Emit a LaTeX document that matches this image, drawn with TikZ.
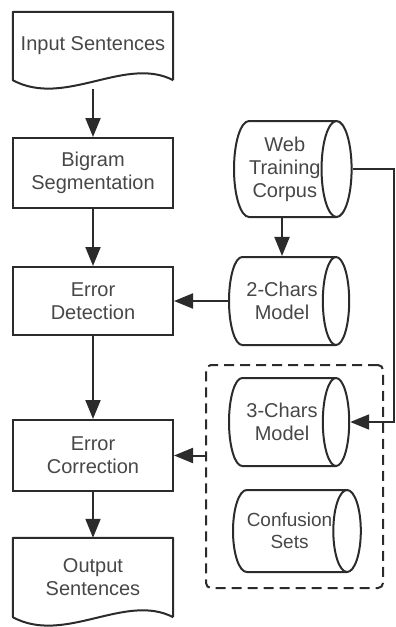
\documentclass[tikz,border=0pt]{standalone}
\usepackage{fontspec}
\setmainfont{Liberation Sans}
\usetikzlibrary{shapes.geometric,arrows.meta,calc}
\definecolor{linegray}{HTML}{2B2B2B}
\definecolor{textgray}{HTML}{474747}

\begin{document}
\begin{tikzpicture}[
		x=1pt, y=-1pt,
		every node/.style={font=\fontsize{20}{23}\selectfont, text=textgray, align=center, inner sep=0pt},
		box/.style={rectangle, draw=linegray, line width=2pt, minimum width=160pt, minimum height=70pt},
		docbox/.style={rectangle, minimum width=160pt, minimum height=68pt},
		docline/.style={draw=linegray, line width=2pt, line join=round},
		store/.style={cylinder, draw=linegray, line width=2pt, anchor=west, minimum width=88pt, inner xsep=4.25pt, shape aspect=0.7},
		flow/.style={draw=linegray, line width=2pt, -{Triangle[length=19pt, width=15pt]}}
	]
  \useasboundingbox (0, 0) rectangle (396, 627);
  % left column
  \node (in) [docbox] at (93, 46) {Input Sentences};
  \node (seg) [box] at (93, 173) {Bigram\\Segmentation};
  \node (det) [box, minimum height=68pt] at (93, 301) {Error\\Detection};
  \node (cor) [box, minimum height=71pt] at (93, 455.5) {Error\\Correction};
  \node (out) [docbox, minimum height=79pt] at (93, 577.5) {Output\\Sentences};
  \draw [docline] (in.south east) -- (in.north east) -- (in.north west) -- (in.south west)
    .. controls ($(in.south west)+(52,28)$) and ($(in.south east)+(-48,-25)$) .. (in.south east);
  \draw [docline] (out.south east) -- (out.north east) -- (out.north west) -- (out.south west)
    .. controls ($(out.south west)+(52,28)$) and ($(out.south east)+(-48,-25)$) .. (out.south east);
  % right column
  \node (web) [store, minimum width=96pt, inner xsep=0pt, shape aspect=0.465] at (233, 169) {Web\\Training\\Corpus};
  \node (two) [store] at (228, 301) {2-Chars\\Model};
  \node (three) [store] at (228, 422) {3-Chars\\Model};
  \node (conf) [store, minimum width=82pt, inner xsep=0pt, shape aspect=0.765, font=\fontsize{19}{22}\selectfont] at (232, 531) {Confusion\\Sets};
  \node (grp) [draw=linegray, line width=2pt, dash pattern=on 10pt off 6pt, rounded corners=5pt,
    minimum width=177pt, minimum height=223pt] at (294.5, 476.5) {};
  \coordinate (rail) at (394, 300);
  % connectors
  \draw [flow] (in.south) ++(0, 9) -- (seg.north);
  \draw [flow] (seg) -- (det);
  \draw [flow] (det) -- (cor);
  \draw [flow] (cor) -- (out);
  \draw [flow] (web.south -| two.north) -- (two.north);
  \draw [flow] (two.west) -- (det.east);
  \draw [flow] (grp.west |- cor.east) -- (cor.east);
  \draw [flow] (web.east) -- (web.east -| rail) -- (three.east -| rail) -- (three.east);
\end{tikzpicture}
\end{document}
